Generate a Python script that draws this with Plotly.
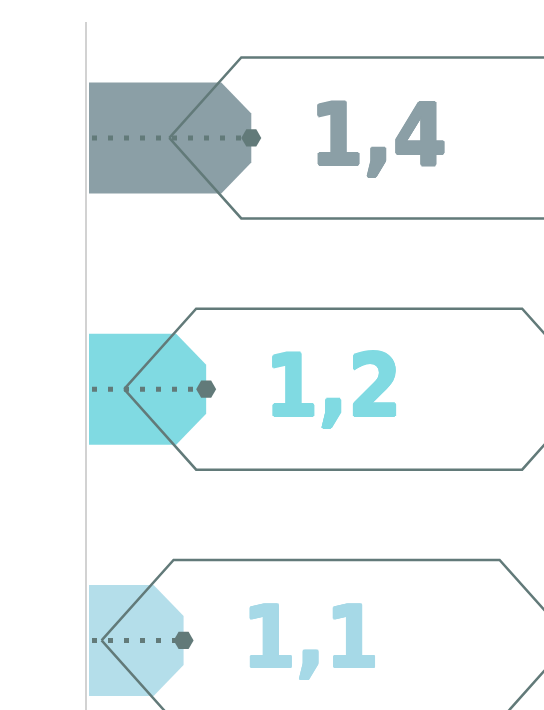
import plotly.graph_objects as go

# Values shown in each tag (decimal comma in the labels)
values = [1.4, 1.2, 1.1]
labels = [f"{v:.1f}".replace(".", ",") for v in values]
bar_colors = ["#8b9fa6", "#80dae2", "#b4deea"]
text_colors = ["#8b9fa6", "#80dae2", "#a6d9e7"]

OUTLINE = "#627a79"
AXIS_GREY = "#d2d2d2"

W, H = 544, 710
M_LEFT, M_TOP = 87, 22

# Axis ranges (value axis horizontal, category index vertical, top to bottom)
X_RANGE = [0.672, 2.697]
Y_RANGE = [2.277, -0.4613]

plot_w = W - M_LEFT
plot_h = H - M_TOP
ux = (X_RANGE[1] - X_RANGE[0]) / plot_w      # data units per pixel, x
uy = (Y_RANGE[0] - Y_RANGE[1]) / plot_h      # data units per pixel, y


def dx(p):
    return p * ux


def dy(p):
    return p * uy


def heavy(color, r=1.2):
    # thicken the glyph strokes with a ring of hard text shadows
    d = r * 0.7071
    offs = [(r, 0), (-r, 0), (0, r), (0, -r), (d, d), (-d, d), (d, -d), (-d, -d)]
    return ", ".join(f"{a:.2f}px {b:.2f}px 0 {color}" for a, b in offs)


base = X_RANGE[0] + dx(2)

fig = go.Figure()

for i, (v, lab, bc, tc) in enumerate(zip(values, labels, bar_colors, text_colors)):
    yc = i
    half = dy(55.5)
    bev_x, bev_y = dx(30), dy(31)

    # bar body with bevelled end
    fig.add_trace(go.Scatter(
        x=[base, v - bev_x, v, v, v - bev_x, base, base],
        y=[yc - half, yc - half, yc - half + bev_y, yc + half - bev_y, yc + half, yc + half, yc - half],
        mode="lines", fill="toself", fillcolor=bc, line=dict(width=0, color=bc),
        hoverinfo="skip", showlegend=False,
    ))

    # outlined tag holding the value
    tip = v - dx(82)
    th = dy(80.5)
    fig.add_trace(go.Scatter(
        x=[tip, tip + dx(72), tip + dx(398), tip + dx(470), tip + dx(398), tip + dx(72), tip],
        y=[yc, yc - th, yc - th, yc, yc + th, yc + th, yc],
        mode="lines", line=dict(width=2.5, color=OUTLINE),
        hoverinfo="skip", showlegend=False,
    ))

    # dotted guide from the axis to the value
    fig.add_trace(go.Scatter(
        x=[base + dx(3), v], y=[yc, yc],
        mode="lines", line=dict(width=5, color=OUTLINE, dash="5px,11px"),
        hoverinfo="skip", showlegend=False,
    ))

    # hexagon at the value
    fig.add_trace(go.Scatter(
        x=[v], y=[yc], mode="markers",
        marker=dict(symbol="hexagon2", size=20, color=OUTLINE, line=dict(width=0)),
        hoverinfo="skip", showlegend=False,
    ))

    # value label
    fig.add_trace(go.Scatter(
        x=[tip + dx(209)], y=[yc + dy(5)], mode="text",
        text=[lab], textposition="middle center",
        textfont=dict(family="DejaVu Sans Condensed, DejaVu Sans", size=86, color=tc,
                      weight="bold", shadow=heavy(tc)),
        hoverinfo="skip", showlegend=False, cliponaxis=False,
    ))

fig.update_xaxes(range=X_RANGE, visible=False, fixedrange=True)
fig.update_yaxes(
    range=Y_RANGE, showgrid=False, zeroline=False, showticklabels=False, ticks="",
    showline=True, linecolor=AXIS_GREY, linewidth=2, fixedrange=True,
)
fig.update_layout(
    width=W, height=H,
    margin=dict(l=M_LEFT, r=0, t=M_TOP, b=0, pad=0),
    paper_bgcolor="white", plot_bgcolor="white",
    showlegend=False,
)

fig.write_html("out.html", config={"displayModeBar": False})
